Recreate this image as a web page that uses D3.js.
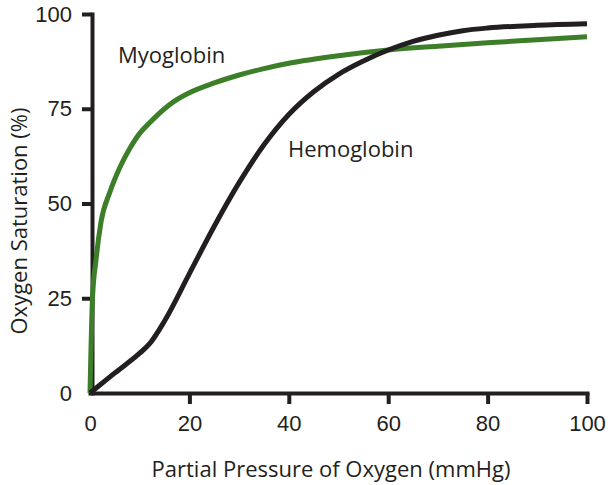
<!DOCTYPE html>
<html lang="en">
<head>
  <meta charset="UTF-8">
  <title>Oxygen Dissociation Curves</title>
  <script src="https://d3js.org/d3.v7.min.js"></script>
  <style>
    body {
      margin: 0;
      background: #fff;
      font-family: 'Open Sans', 'Noto Sans', sans-serif;
    }
    .axis text {
      font-size: 22px;
      fill: #231f20;
    }
    .axis .domain, .axis line {
      stroke: #231f20;
      stroke-width: 4;
    }
    .curve {
      fill: none;
      stroke-width: 5;
      stroke-linejoin: round;
    }
  </style>
</head>
<body>
<svg width="608" height="485"></svg>
<script>
  // values
  const hemoPressure = [0, 5, 10, 12, 15, 20, 25, 30, 35, 40, 45, 50, 55, 60, 65, 70, 75, 80, 90, 100];
  const hemoSaturation = [0, 5.3, 10.5, 13, 19, 31.5, 44, 55.5, 65.5, 73.5, 79.5, 84.1, 87.6, 90.5, 92.8, 94.4, 95.6, 96.3, 97, 97.4];
  const myoPressure = [0, 0.5, 1.2, 2.2, 4, 6, 8, 10, 12, 15, 17, 20, 25, 30, 35, 40, 50, 60, 70, 80, 90, 100];
  const myoSaturation = [0, 25, 35, 45, 53, 59.5, 64.5, 68.5, 71.3, 75, 77, 79.2, 81.8, 83.9, 85.6, 87, 89, 90.5, 91.5, 92.4, 93.2, 94];
  const xTicks = [0, 20, 40, 60, 80, 100];
  const yTicks = [0, 25, 50, 75, 100];

  const svg = d3.select("svg");

  const x = d3.scaleLinear().domain([0, 100]).range([90, 587]);
  const y = d3.scaleLinear().domain([0, 100]).range([393, 14]);

  const line = d3.line()
    .x(d => x(d[0]))
    .y(d => y(d[1]))
    .curve(d3.curveMonotoneX);

  // axes
  svg.append("g")
    .attr("class", "axis")
    .attr("transform", `translate(0,${y(0)})`)
    .call(d3.axisBottom(x).tickValues(xTicks).tickSize(11).tickSizeOuter(0).tickPadding(11))
    .call(g => g.select(".domain").attr("stroke-linecap", "square"))
    .call(g => g.selectAll(".tick").filter(d => d === 0).select("line").remove())
    .call(g => g.selectAll("text").attr("font-family", null).attr("font-size", null));

  svg.append("g")
    .attr("class", "axis")
    .attr("transform", `translate(${x(0) + 2},0)`)
    .call(d3.axisLeft(y).tickValues(yTicks).tickSize(10).tickSizeOuter(0).tickPadding(10))
    .call(g => g.select(".domain").attr("stroke-linecap", "square"))
    .call(g => g.selectAll(".tick").filter(d => d === 0).select("line").remove())
    .call(g => g.selectAll("text").attr("font-family", null).attr("font-size", null));

  // curves
  svg.append("path")
    .attr("class", "curve")
    .attr("stroke", "#3d7e29")
    .attr("d", line(myoPressure.map((p, i) => [p, myoSaturation[i]])));

  svg.append("path")
    .attr("class", "curve")
    .attr("stroke", "#231f20")
    .attr("d", line(hemoPressure.map((p, i) => [p, hemoSaturation[i]])));

  // curve labels
  svg.append("text")
    .attr("x", 118).attr("y", 63)
    .attr("font-size", "22px").attr("fill", "#231f20")
    .text("Myoglobin");

  svg.append("text")
    .attr("x", 288).attr("y", 157)
    .attr("font-size", "22px").attr("fill", "#231f20")
    .text("Hemoglobin");

  // axis titles
  svg.append("text")
    .attr("x", 331).attr("y", 477)
    .attr("text-anchor", "middle")
    .attr("font-size", "22px").attr("fill", "#231f20")
    .text("Partial Pressure of Oxygen (mmHg)");

  svg.append("text")
    .attr("transform", "translate(27,221) rotate(-90)")
    .attr("text-anchor", "middle")
    .attr("font-size", "22px").attr("fill", "#231f20")
    .text("Oxygen Saturation (%)");
</script>
</body>
</html>
